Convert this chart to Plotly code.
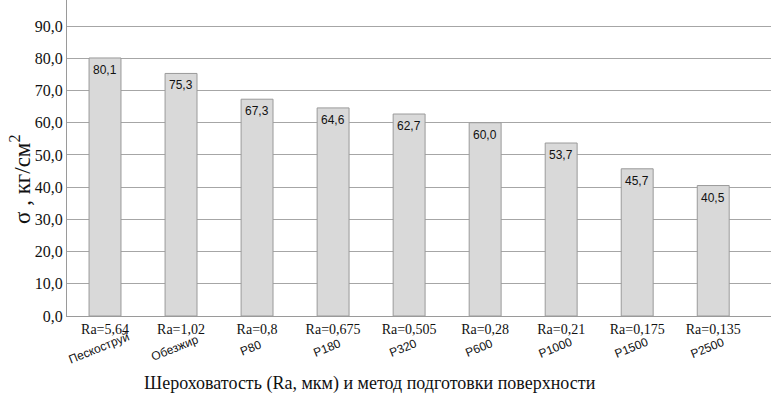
import plotly.graph_objects as go

# Data
methods = ["Пескоструй", "Обезжир", "P80", "P180", "P320", "P600", "P1000", "P1500", "P2500"]
ra_labels = ["Ra=5,64", "Ra=1,02", "Ra=0,8", "Ra=0,675", "Ra=0,505", "Ra=0,28", "Ra=0,21", "Ra=0,175", "Ra=0,135"]
values = [80.1, 75.3, 67.3, 64.6, 62.7, 60.0, 53.7, 45.7, 40.5]
y_tick_vals = [0, 10, 20, 30, 40, 50, 60, 70, 80, 90]
y_tick_text = ["0,0", "10,0", "20,0", "30,0", "40,0", "50,0", "60,0", "70,0", "80,0", "90,0"]

W, H = 771, 399
ml, mr, mt, mb = 67, 0, 0, 83
pw, ph = W - ml - mr, H - mt - mb

x_idx = list(range(len(methods)))
bar_text = [f"{v:.1f}".replace(".", ",") for v in values]

fig = go.Figure()
fig.add_trace(go.Bar(
    x=x_idx, y=values, width=0.42,
    marker=dict(color="#d9d9d9", line=dict(color="#9a9a9a", width=1)),
    hoverinfo="skip",
))

annotations = []
# value labels inside bars, just under the top
for i, (v, t) in enumerate(zip(values, bar_text)):
    annotations.append(dict(
        x=i, xref="x", y=v, yref="y", yshift=-12,
        text=t, showarrow=False,
        font=dict(family="Liberation Sans", size=12, color="#111"),
        xanchor="center", yanchor="middle",
    ))
for i, m in enumerate(methods):
    annotations.append(dict(
        x=i - 0.08, xref="x", y=-(348 - ph) / ph, yref="paper",
        text=m, showarrow=False, textangle=-22,
        font=dict(family="Liberation Sans", size=12, color="#111"),
        xanchor="center", yanchor="middle",
    ))
annotations.append(dict(
    x=(370 - ml) / pw, xref="paper", y=-(383 - ph) / ph, yref="paper",
    text="Шероховатость (Ra, мкм) и метод подготовки поверхности",
    showarrow=False, font=dict(family="Liberation Serif", size=18, color="#111"),
    xanchor="center", yanchor="middle",
))
annotations.append(dict(
    x=(21 - ml) / pw, xref="paper", y=(ph - 180) / ph, yref="paper",
    text="σ , кг/см<sup>2</sup>", textangle=-90,
    showarrow=False, font=dict(family="Liberation Serif", size=23, color="#111"),
    xanchor="center", yanchor="middle",
))

fig.update_layout(
    width=W, height=H,
    margin=dict(l=ml, r=mr, t=mt, b=mb, autoexpand=False),
    plot_bgcolor="white", paper_bgcolor="white",
    showlegend=False,
    annotations=annotations,
    xaxis=dict(
        range=[-0.5, 8.76], tickvals=x_idx, ticktext=ra_labels,
        tickfont=dict(family="Liberation Serif", size=14, color="#111"),
        showgrid=False, showline=True, linecolor="#9a9a9a", linewidth=1,
        ticks="", zeroline=False, automargin=False,
    ),
    yaxis=dict(
        range=[0, 98.1], tickvals=y_tick_vals, ticktext=y_tick_text,
        tickfont=dict(family="Liberation Serif", size=16, color="#111"),
        showgrid=True, gridcolor="#a6a6a6", gridwidth=1,
        showline=True, linecolor="#9a9a9a", linewidth=1,
        ticks="", zeroline=False, automargin=False,
    ),
)

fig.write_html(
    "out.html",
    config={"displayModeBar": False},
    post_script="document.body.style.margin='0px';document.body.style.padding='0px';",
)
